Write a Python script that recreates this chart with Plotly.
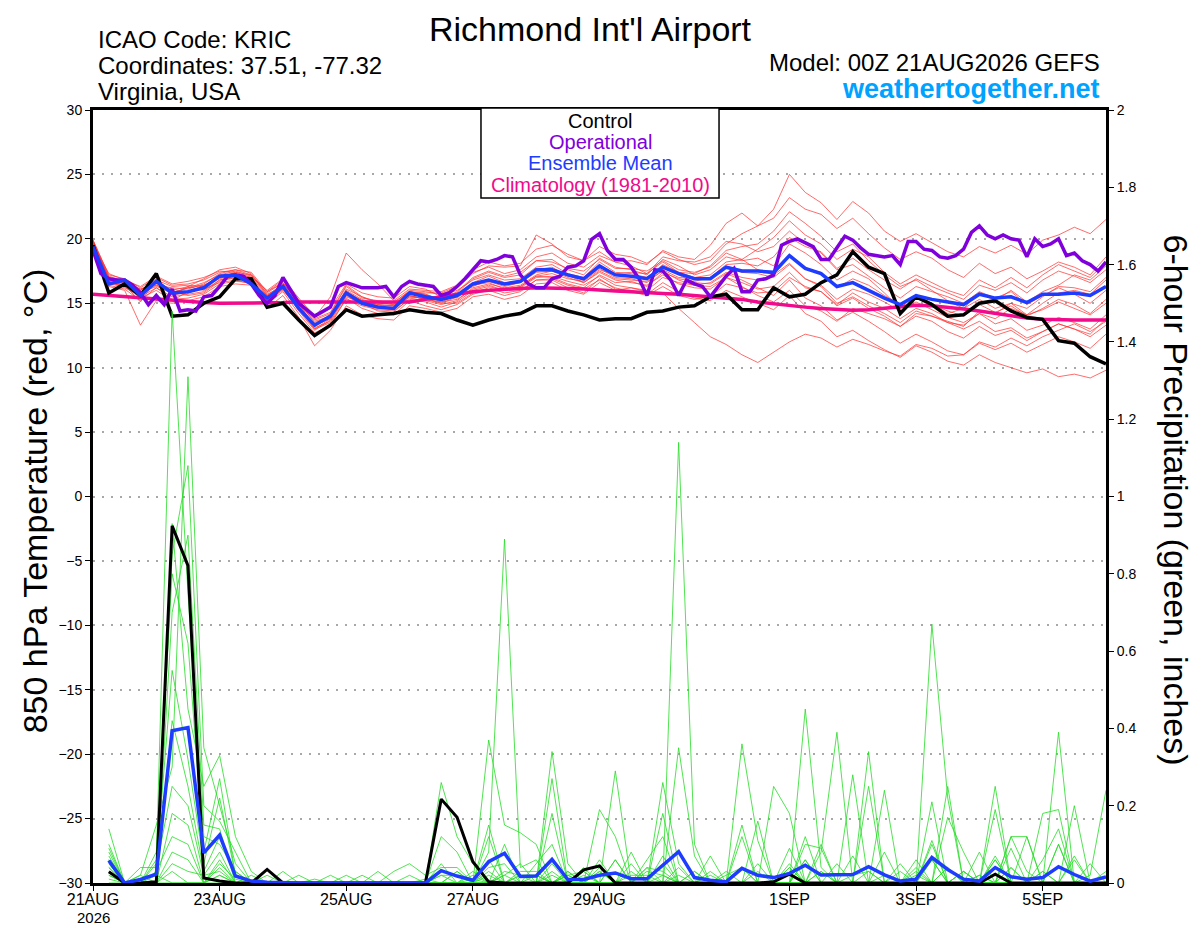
import pandas as pd
import plotly.graph_objects as go

# 6-hourly valid times (temperature) and 3-hourly for the operational run
times = pd.date_range('2026-08-21 00:00', periods=65, freq='6h')
times_op = pd.date_range('2026-08-21 00:00', periods=129, freq='3h')
times_precip = times[1:]

tick_dates = ['2026-08-21', '2026-08-23', '2026-08-25', '2026-08-27',
              '2026-08-29', '2026-09-01', '2026-09-03', '2026-09-05']
tick_labels = ['21AUG', '23AUG', '25AUG', '27AUG',
               '29AUG', '1SEP', '3SEP', '5SEP']

# 850 hPa temperature (C)
control_t = [19.5, 15.8, 16.5, 15.6, 17.3, 14.0, 14.1, 15.0, 15.5, 16.9, 16.9,
             14.7, 15.0, 13.7, 12.5, 13.3, 14.5, 14.0, 14.1, 14.2, 14.5, 14.3,
             14.2, 13.7, 13.3, 13.7, 14.0, 14.2, 14.8, 14.8, 14.4, 14.1, 13.7,
             13.8, 13.8, 14.3, 14.4, 14.7, 14.8, 15.5, 15.7, 14.5, 14.5, 16.2,
             15.5, 15.7, 16.6, 17.2, 19.0, 17.8, 17.3, 14.2, 15.5, 14.9, 14.0,
             14.1, 15.0, 15.2, 14.4, 13.9, 13.75, 12.1, 11.9, 10.85, 10.3]

mean_t = [19.4, 16.5, 16.8, 15.6, 16.7, 15.8, 15.9, 16.2, 17.1, 17.2, 16.5,
          15.4, 16.3, 14.6, 13.3, 14.0, 15.8, 15.0, 14.7, 14.6, 15.8, 15.5,
          15.3, 15.6, 16.5, 16.8, 16.5, 16.7, 17.6, 17.6, 17.2, 16.9, 17.9,
          17.2, 17.1, 16.9, 17.8, 17.3, 16.9, 16.9, 17.8, 17.5, 17.5, 17.4,
          18.7, 17.7, 17.3, 16.3, 16.6, 16.0, 15.4, 14.9, 15.6, 15.3, 15.1,
          14.9, 15.7, 15.4, 15.5, 15.05, 15.7, 15.7, 15.8, 15.6, 16.3]

clim_t = [15.7, 15.6, 15.5, 15.4, 15.3, 15.2, 15.1, 15.05, 15.0, 15.0, 15.0,
          15.0, 15.05, 15.1, 15.1, 15.1, 15.1, 15.1, 15.05, 15.05, 15.1, 15.3,
          15.5, 15.7, 15.9, 16.0, 16.1, 16.15, 16.2, 16.2, 16.15, 16.1, 16.0,
          15.95, 15.9, 15.8, 15.75, 15.7, 15.6, 15.5, 15.4, 15.3, 15.1, 14.95,
          14.8, 14.7, 14.6, 14.5, 14.45, 14.5, 14.6, 14.75, 14.85, 14.8, 14.7,
          14.55, 14.4, 14.2, 14.0, 13.85, 13.75, 13.7, 13.7, 13.7, 13.7]

oper_t = [19.1, 17.3, 16.9, 16.8, 16.8, 16.4, 15.8, 14.9, 15.6, 14.9, 16.1,
          14.4, 14.5, 14.4, 15.5, 15.6, 16.3, 17.1, 17.2, 17.1, 16.5, 15.6,
          15.0, 15.6, 17.0, 16.0, 15.0, 14.5, 14.0, 14.35, 14.7, 16.3, 16.6,
          16.4, 16.2, 16.2, 16.2, 16.3, 15.5, 16.3, 16.7, 16.5, 16.4,
          16.3, 15.6, 15.8, 16.3, 16.9, 17.6, 18.3, 18.2, 18.4, 18.7, 18.6,
          17.2, 16.5, 16.2, 16.2, 16.9, 17.1, 17.8, 17.9, 18.3, 19.96, 20.4,
          19.1, 18.4, 18.4, 17.8, 16.9, 15.6, 17.6, 17.5, 16.8, 15.6, 16.8,
          16.5, 16.3, 15.5, 16.3, 17.1, 17.7, 15.9, 15.9, 16.8, 16.9,
          17.2, 19.5, 19.8, 20.0, 19.7, 19.4, 18.4, 18.4, 19.3, 20.2, 19.9,
          19.3, 18.8, 18.7, 18.6, 18.7, 18.0, 19.8, 19.8, 19.2, 19.1, 18.6,
          18.5, 18.7, 19.2, 20.5, 21.0, 20.3, 20.0, 20.3, 20.0, 19.9, 18.6,
          20.0, 19.4, 19.6, 20.0, 18.7, 18.9, 18.3, 18.0, 17.5, 18.2]

members_t = [
    [19.9, 17.2, 16.9, 16.2, 17.0, 16.4, 16.5, 16.8, 17.4, 17.6, 17.2,
     15.9, 16.8, 15.2, 13.9, 15.5, 18.9, 17.6, 16.5, 15.2, 16.1, 16.0,
     15.9, 16.4, 17.4, 17.8, 17.3, 17.6, 18.6, 18.9, 18.1, 17.8, 18.7,
     18.2, 18.3, 18.0, 19.1, 18.6, 18.4, 19.5, 21.2, 22.0, 21.0, 22.3,
     25.0, 23.6, 22.8, 21.5, 22.9, 22.0, 20.6, 19.8, 20.4, 19.7, 19.0,
     18.6, 19.4, 18.9, 19.5, 18.8, 19.9, 20.3, 20.9, 20.4, 21.5],
    [19.6, 16.4, 16.1, 15.2, 16.2, 15.3, 15.4, 15.7, 16.5, 16.7, 16.6,
     15.0, 15.9, 14.2, 12.7, 13.3, 15.4, 14.6, 14.2, 14.1, 15.2, 14.8,
     14.5, 14.9, 15.7, 16.0, 15.6, 15.9, 16.8, 16.8, 16.2, 15.8, 16.9,
     16.1, 16.0, 15.7, 16.6, 15.9, 15.4, 15.2, 16.0, 15.5, 15.0, 14.5,
     15.6, 14.2, 13.6, 12.4, 12.9, 12.1, 11.4, 10.8, 11.7, 11.2, 10.5,
     10.2, 11.0, 10.4, 10.0, 9.6, 9.9, 9.3, 9.5, 9.2, 9.8],
    [19.8, 16.9, 16.6, 15.9, 16.5, 16.1, 15.8, 16.3, 17.1, 17.3, 17.0,
     15.6, 16.5, 15.0, 13.2, 14.1, 16.0, 15.3, 14.9, 15.1, 15.9, 15.7,
     15.2, 15.8, 16.9, 17.4, 17.0, 17.2, 18.3, 18.4, 17.6, 17.2, 18.5,
     17.8, 17.6, 17.2, 18.4, 17.9, 17.2, 17.6, 18.6, 18.3, 18.5, 17.9,
     19.6, 18.9, 18.0, 16.8, 17.5, 16.9, 15.8, 14.6, 15.7, 15.0, 14.2,
     14.6, 15.8, 15.2, 16.0, 15.1, 15.9, 16.4, 17.2, 16.8, 17.9],
    [19.5, 16.6, 16.4, 15.1, 16.8, 15.7, 16.3, 16.0, 16.8, 17.0, 16.6,
     15.2, 16.0, 14.6, 13.1, 13.6, 15.5, 15.0, 14.4, 14.3, 15.4, 15.2,
     14.9, 15.2, 16.2, 16.5, 16.2, 16.4, 17.2, 17.5, 17.2, 16.6, 17.4,
     16.8, 16.6, 16.4, 17.2, 16.5, 16.2, 16.1, 17.0, 16.6, 16.1, 16.3,
     17.4, 16.2, 15.9, 14.8, 15.4, 14.6, 14.0, 13.2, 14.0, 13.6, 12.8,
     12.3, 13.2, 12.5, 12.9, 12.1, 12.8, 13.4, 13.0, 12.6, 13.8],
    [19.7, 17.0, 16.7, 16.0, 16.9, 15.8, 16.2, 16.6, 17.2, 17.5, 17.1,
     15.8, 16.6, 15.0, 13.7, 14.2, 16.3, 15.4, 15.2, 15.0, 16.0, 15.9,
     15.7, 16.2, 17.3, 17.9, 17.8, 17.9, 20.3, 19.6, 18.6, 18.3, 19.4,
     18.8, 18.6, 18.1, 19.0, 18.4, 18.0, 18.3, 19.6, 20.4, 21.0, 21.6,
     23.2, 22.3, 21.9, 20.8, 21.6, 20.4, 19.3, 18.4, 19.0, 18.5, 17.6,
     17.0, 18.1, 17.3, 17.8, 16.9, 17.5, 18.2, 17.8, 17.2, 18.6],
    [19.9, 16.5, 16.3, 15.5, 16.2, 15.5, 15.7, 15.9, 16.8, 17.1, 16.9,
     15.3, 16.1, 14.4, 12.9, 13.7, 15.6, 14.9, 14.6, 14.5, 15.5, 15.4,
     15.6, 16.0, 16.8, 17.2, 16.8, 16.9, 17.8, 18.0, 17.3, 17.0, 18.2,
     17.4, 17.3, 17.0, 17.9, 17.2, 16.6, 16.5, 17.3, 16.8, 16.2, 15.6,
     16.8, 15.4, 14.8, 13.7, 14.3, 13.6, 12.8, 11.9, 12.6, 12.0, 11.3,
     11.0, 11.9, 11.4, 11.9, 11.2, 11.8, 12.4, 12.0, 11.5, 12.6],
    [19.6, 17.3, 16.8, 16.3, 17.1, 16.5, 16.7, 17.0, 17.5, 17.4, 17.0,
     16.0, 16.9, 15.4, 14.0, 14.6, 16.5, 15.8, 15.5, 15.4, 16.3, 16.1,
     15.5, 15.4, 16.4, 16.6, 16.1, 16.3, 17.1, 17.0, 16.5, 16.2, 17.2,
     16.6, 16.7, 16.3, 17.4, 16.9, 16.7, 17.0, 18.0, 18.1, 17.9, 18.6,
     20.1, 19.4, 19.0, 17.7, 18.5, 17.6, 16.8, 16.1, 16.9, 16.3, 15.8,
     15.3, 16.4, 16.0, 16.6, 15.8, 16.8, 17.5, 17.1, 16.6, 17.6],
    [19.8, 16.3, 16.0, 13.3, 15.2, 15.0, 15.2, 15.5, 16.3, 16.5, 16.4,
     14.6, 15.6, 13.9, 11.7, 12.9, 14.8, 14.1, 13.8, 13.7, 14.8, 14.6,
     14.3, 14.6, 15.5, 15.7, 15.3, 15.6, 16.5, 16.6, 16.0, 15.7, 16.6,
     16.0, 16.2, 16.0, 17.0, 16.6, 16.4, 16.6, 17.4, 17.0, 16.8, 17.2,
     18.6, 17.7, 17.4, 16.2, 16.9, 16.4, 15.6, 14.9, 15.5, 14.9, 14.4,
     14.0, 14.9, 14.3, 14.8, 14.0, 14.6, 15.3, 14.9, 14.2, 15.3],
    [19.7, 16.8, 16.6, 15.7, 16.4, 16.2, 16.1, 16.5, 17.3, 17.6, 17.4,
     15.9, 16.6, 15.1, 13.5, 14.0, 16.1, 15.5, 15.1, 14.9, 15.9, 15.8,
     15.8, 16.3, 17.6, 18.2, 17.9, 18.1, 19.2, 19.5, 18.8, 18.3, 19.0,
     18.2, 17.9, 17.3, 18.2, 17.4, 17.0, 17.2, 18.2, 18.4, 19.2, 20.1,
     21.4, 20.3, 19.6, 18.4, 19.2, 18.6, 17.4, 16.5, 17.2, 16.6, 16.0,
     15.6, 16.8, 16.2, 17.0, 16.2, 17.2, 18.0, 17.5, 17.0, 18.2],
    [19.6, 16.7, 16.2, 15.6, 16.7, 15.6, 15.9, 16.1, 16.6, 16.8, 16.5,
     15.1, 16.2, 14.7, 13.0, 13.5, 15.3, 14.8, 14.5, 14.4, 15.3, 15.1,
     14.7, 15.1, 16.0, 16.3, 16.0, 16.2, 17.0, 17.1, 16.7, 16.4, 17.1,
     16.4, 16.2, 15.9, 15.8, 14.6, 13.5, 12.4, 11.8, 11.0, 10.4, 11.2,
     12.0, 12.6, 12.3, 11.6, 12.2, 11.8, 11.3, 10.9, 11.8, 11.5, 10.9,
     11.0, 12.0, 11.6, 12.3, 11.7, 12.4, 12.9, 13.4, 12.8, 13.6],
    [19.9, 17.1, 16.7, 16.1, 16.6, 16.0, 16.3, 16.9, 17.6, 17.8, 17.3,
     15.7, 16.3, 14.9, 13.6, 14.0, 15.9, 15.2, 14.9, 14.8, 15.8, 15.6,
     15.4, 15.6, 16.6, 17.1, 16.6, 16.7, 17.6, 17.8, 17.1, 16.9, 17.9,
     17.3, 17.4, 17.3, 18.6, 18.3, 18.2, 18.6, 19.8, 19.6, 19.0, 19.4,
     20.6, 19.6, 18.9, 17.6, 18.0, 17.1, 16.2, 15.4, 16.3, 15.9, 15.5,
     15.0, 15.9, 15.4, 15.9, 14.9, 15.6, 16.2, 15.7, 15.0, 16.0],
    [19.5, 16.5, 16.5, 15.8, 16.3, 15.9, 15.6, 15.8, 16.7, 17.0, 16.8,
     15.4, 16.4, 14.8, 13.3, 13.8, 15.7, 15.1, 14.7, 14.6, 15.6, 15.3,
     15.0, 15.5, 16.3, 16.8, 16.4, 16.6, 17.5, 17.7, 17.2, 16.8, 17.7,
     17.0, 16.9, 16.6, 17.6, 17.0, 16.9, 17.0, 17.9, 17.4, 17.3, 17.0,
     18.0, 16.9, 16.4, 15.3, 16.1, 15.7, 15.1, 14.4, 15.1, 14.5, 13.9,
     13.5, 14.2, 13.4, 13.8, 12.9, 13.3, 13.9, 13.5, 13.0, 14.1],
    [19.8, 16.9, 16.3, 15.4, 16.0, 15.2, 15.9, 16.4, 17.0, 17.2, 16.9,
     15.5, 16.2, 14.5, 13.0, 13.8, 15.8, 15.2, 14.8, 14.8, 15.9, 15.7,
     15.3, 15.9, 17.0, 17.5, 17.1, 17.4, 18.3, 18.2, 17.7, 17.5, 18.4,
     17.7, 17.7, 17.5, 18.3, 17.6, 17.4, 17.8, 18.9, 18.4, 17.6, 17.2,
     18.1, 16.9, 16.3, 15.0, 15.5, 14.8, 14.2, 13.5, 14.4, 14.0, 13.6,
     13.2, 14.4, 14.2, 15.0, 14.6, 15.5, 16.3, 16.2, 15.9, 17.0],
    [19.7, 16.6, 16.8, 16.0, 16.8, 16.3, 16.4, 16.3, 16.9, 17.2, 16.7,
     15.4, 16.5, 15.3, 13.8, 14.3, 16.4, 15.5, 15.0, 14.9, 15.9, 15.6,
     15.1, 15.3, 16.1, 16.4, 16.0, 16.3, 17.1, 17.3, 16.9, 16.7, 17.6,
     17.2, 17.1, 17.0, 18.0, 17.4, 17.3, 17.9, 19.1, 19.4, 19.6, 20.6,
     22.1, 21.2, 20.2, 19.0, 19.6, 18.3, 17.2, 16.3, 16.8, 16.0, 15.2,
     14.6, 15.3, 14.6, 15.0, 14.1, 14.5, 15.1, 14.6, 14.1, 15.0],
    [19.6, 17.0, 16.5, 16.1, 16.4, 15.7, 16.2, 16.4, 17.0, 17.4, 17.2,
     15.6, 16.4, 14.9, 13.2, 13.9, 15.7, 15.2, 14.7, 14.6, 15.5, 15.4,
     15.0, 15.0, 15.8, 16.2, 15.8, 16.0, 16.8, 16.9, 16.4, 16.1, 16.8,
     16.2, 15.9, 15.6, 16.3, 15.6, 15.3, 15.5, 16.5, 16.2, 15.8, 15.9,
     17.0, 16.3, 15.9, 14.9, 15.8, 15.1, 14.6, 13.8, 14.6, 14.2, 13.5,
     13.3, 14.2, 13.8, 14.6, 14.1, 15.0, 15.8, 16.0, 15.7, 16.8],
    [19.8, 16.7, 16.4, 15.6, 16.6, 15.9, 15.8, 16.2, 17.0, 17.1, 16.8,
     15.2, 16.1, 14.6, 13.4, 14.0, 15.9, 15.2, 14.8, 14.8, 15.6, 15.3,
     15.1, 15.6, 16.5, 16.7, 16.3, 16.6, 17.4, 17.5, 17.0, 16.6, 17.5,
     16.9, 16.8, 16.7, 17.5, 16.8, 16.4, 16.3, 17.0, 16.3, 15.6, 15.1,
     16.0, 14.8, 14.4, 13.6, 14.6, 14.2, 13.8, 13.2, 14.2, 14.0, 13.5,
     13.0, 13.6, 12.8, 13.1, 12.3, 12.8, 13.4, 13.0, 12.4, 13.3],
]

# 6-hour precipitation (inches), valid 06Z 21 Aug onward
control_p = [0.029, 0, 0, 0.003, 0.924, 0.821, 0.013, 0.005,
             0, 0, 0.035, 0, 0, 0, 0, 0,
             0, 0, 0, 0, 0, 0.217, 0.17, 0.055,
             0.003, 0, 0, 0, 0, 0, 0.034, 0.044,
             0, 0, 0, 0, 0, 0, 0, 0,
             0, 0, 0.003, 0.023, 0, 0, 0, 0,
             0, 0, 0, 0, 0, 0, 0, 0,
             0.023, 0, 0, 0, 0, 0, 0, 0]

mean_p = [0.058, 0.0, 0.009, 0.023, 0.394, 0.402, 0.078, 0.124,
          0.018, 0.005, 0.002, 0, 0, 0, 0, 0,
          0, 0, 0, 0, 0, 0.032, 0.018, 0.007,
          0.055, 0.077, 0.017, 0.018, 0.061, 0.009, 0.009, 0.02,
          0.026, 0.011, 0.011, 0.046, 0.081, 0.014, 0.007, 0.003,
          0.038, 0.02, 0.014, 0.025, 0.046, 0.021, 0.021, 0.022,
          0.042, 0.021, 0.005, 0.01, 0.066, 0.035, 0.01, 0.005,
          0.04, 0.016, 0.01, 0.014, 0.042, 0.022, 0.005, 0.016]

members_p = [
    [0.08, 0, 0, 0.06, 1.48, 0.75, 0.12, 0.10, 0.03, 0, 0, 0, 0, 0, 0, 0,
     0, 0, 0, 0, 0, 0.05, 0, 0, 0.06, 0, 0, 0, 0.05, 0, 0, 0,
     0.06, 0, 0, 0.05, 0, 0, 0, 0, 0.04, 0, 0, 0, 0.06, 0, 0, 0,
     0.03, 0, 0, 0, 0.06, 0, 0, 0, 0.06, 0, 0, 0, 0.10, 0, 0, 0],
    [0.14, 0, 0.02, 0.15, 0.30, 1.31, 0.35, 0.20, 0.05, 0, 0, 0, 0, 0, 0, 0,
     0, 0, 0, 0, 0, 0.26, 0.12, 0.05, 0, 0.02, 0, 0, 0.03, 0, 0, 0,
     0, 0, 0, 0, 0.04, 0, 0, 0, 0, 0, 0, 0.05, 0, 0, 0, 0.07,
     0, 0, 0, 0, 0, 0.04, 0, 0, 0, 0.04, 0, 0, 0, 0, 0, 0],
    [0.05, 0, 0, 0, 0.93, 0.45, 0.25, 0.33, 0.12, 0.03, 0, 0, 0, 0, 0, 0,
     0, 0, 0, 0, 0, 0, 0, 0, 0.37, 0.15, 0.13, 0.10, 0, 0, 0, 0.04,
     0, 0, 0, 0.26, 0.05, 0, 0, 0, 0, 0.16, 0, 0, 0, 0.10, 0, 0,
     0, 0, 0, 0, 0.67, 0.22, 0, 0, 0.07, 0, 0, 0, 0, 0.07, 0, 0],
    [0.10, 0, 0, 0, 0.85, 1.08, 0.20, 0.16, 0.08, 0, 0.02, 0, 0, 0, 0, 0,
     0, 0, 0, 0, 0, 0.12, 0.08, 0, 0, 0.02, 0.05, 0, 0, 0, 0, 0,
     0.29, 0, 0, 0, 1.14, 0.10, 0, 0, 0.15, 0, 0, 0, 0.45, 0.04, 0, 0,
     0, 0.08, 0, 0, 0.21, 0, 0, 0, 0, 0.12, 0.03, 0, 0, 0.06, 0, 0],
    [0.09, 0, 0, 0.08, 0.80, 0.62, 0.08, 0.27, 0.02, 0, 0, 0, 0, 0, 0, 0.02,
     0, 0, 0, 0, 0, 0, 0, 0, 0.15, 0, 0, 0, 0.34, 0.05, 0, 0,
     0, 0.08, 0, 0.18, 0, 0, 0, 0, 0.36, 0.11, 0, 0, 0, 0, 0, 0.28,
     0, 0.24, 0, 0, 0, 0.25, 0, 0, 0.25, 0, 0, 0, 0, 0.20, 0, 0],
    [0.07, 0, 0, 0, 0.70, 0.90, 0.15, 0.14, 0, 0, 0, 0.03, 0, 0, 0, 0,
     0, 0, 0.03, 0.05, 0.02, 0.04, 0.04, 0, 0.12, 0, 0, 0, 0.27, 0, 0.04, 0,
     0, 0, 0.06, 0.12, 0, 0, 0, 0, 0, 0, 0.25, 0.18, 0, 0, 0, 0,
     0.25, 0, 0, 0, 0.11, 0, 0, 0, 0.19, 0, 0, 0.18, 0.19, 0, 0, 0],
    [0.06, 0, 0, 0.05, 0.55, 0.32, 0.05, 0.22, 0.02, 0, 0, 0, 0, 0, 0.02, 0,
     0, 0, 0, 0, 0, 0, 0, 0.03, 0, 0.10, 0, 0, 0.18, 0, 0, 0.19,
     0.12, 0, 0, 0, 0.35, 0.07, 0, 0, 0, 0, 0, 0, 0.12, 0, 0, 0,
     0, 0, 0.05, 0, 0, 0.17, 0.08, 0, 0, 0, 0, 0.06, 0.14, 0, 0, 0],
    [0.06, 0, 0, 0, 0.42, 0.25, 0.03, 0.12, 0.03, 0, 0, 0, 0, 0, 0, 0,
     0.02, 0, 0, 0, 0, 0.02, 0, 0, 0.08, 0.89, 0.04, 0.06, 0, 0.03, 0, 0,
     0, 0.05, 0, 0.07, 0, 0, 0.07, 0, 0, 0.05, 0, 0, 0.10, 0.09, 0, 0,
     0, 0, 0, 0.06, 0, 0, 0, 0.08, 0, 0.09, 0, 0, 0, 0, 0.05, 0],
    [0.05, 0, 0.04, 0.04, 0.25, 0.20, 0.02, 0.08, 0, 0, 0, 0, 0, 0, 0, 0,
     0, 0.03, 0, 0, 0, 0, 0.03, 0, 0.04, 0.05, 0, 0.05, 0.10, 0, 0, 0,
     0.06, 0, 0.04, 0, 0, 0, 0, 0, 0.12, 0, 0, 0.09, 0, 0.08, 0.39, 0,
     0, 0, 0, 0.04, 0, 0, 0.03, 0, 0, 0, 0.12, 0, 0.10, 0, 0, 0],
    [0.04, 0, 0, 0, 0.18, 0.15, 0, 0.06, 0, 0.02, 0, 0, 0, 0, 0, 0,
     0, 0, 0, 0, 0, 0, 0, 0.02, 0, 0, 0.03, 0.03, 0, 0.02, 0, 0.06,
     0, 0, 0.04, 0.03, 0, 0.03, 0, 0.03, 0, 0, 0, 0.04, 0, 0, 0.05, 0,
     0.34, 0, 0, 0.03, 0, 0, 0.03, 0, 0, 0, 0, 0.03, 0, 0, 0, 0.03],
    [0.04, 0, 0, 0.03, 0.12, 0.10, 0, 0.05, 0.01, 0, 0, 0, 0.02, 0, 0, 0,
     0, 0, 0, 0, 0.01, 0, 0, 0, 0.03, 0, 0.02, 0.02, 0, 0.02, 0.03, 0,
     0, 0.03, 0, 0.02, 0, 0, 0.03, 0, 0, 0.03, 0, 0, 0, 0.03, 0, 0,
     0, 0, 0.03, 0, 0.06, 0, 0, 0.02, 0, 0.04, 0, 0, 0.39, 0, 0, 0],
    [0.03, 0, 0, 0, 0.08, 0.06, 0, 0.04, 0, 0, 0, 0, 0, 0, 0, 0,
     0, 0, 0, 0.02, 0, 0.02, 0.02, 0, 0.02, 0, 0, 0.02, 0, 0.02, 0, 0.03,
     0, 0, 0.03, 0.02, 0, 0, 0, 0.02, 0.04, 0, 0, 0, 0.06, 0, 0, 0,
     0, 0, 0, 0.02, 0, 0.04, 0, 0, 0.06, 0, 0, 0, 0, 0, 0.02, 0.24],
    [0.02, 0, 0, 0, 0.05, 0.03, 0.02, 0.03, 0, 0, 0, 0, 0, 0.01, 0, 0,
     0, 0, 0, 0, 0, 0, 0, 0, 0, 0.03, 0.02, 0.02, 0, 0, 0, 0,
     0, 0.02, 0.02, 0, 0.02, 0, 0, 0, 0, 0, 0, 0.04, 0, 0.03, 0, 0,
     0, 0, 0, 0, 0.10, 0, 0, 0, 0, 0, 0, 0.03, 0, 0, 0, 0],
    [0.02, 0, 0, 0, 0.03, 0, 0, 0.02, 0, 0, 0, 0, 0, 0, 0, 0,
     0, 0, 0, 0, 0, 0, 0, 0.01, 0, 0, 0, 0, 0.02, 0, 0.03, 0,
     0, 0, 0, 0, 0, 0.03, 0, 0, 0, 0, 0, 0, 0, 0, 0, 0.02,
     0.03, 0, 0, 0, 0, 0, 0.03, 0, 0, 0.12, 0.12, 0, 0, 0, 0, 0],
    [0.01, 0, 0, 0.02, 0, 0, 0, 0.02, 0, 0, 0, 0, 0, 0, 0, 0,
     0, 0, 0, 0, 0, 0, 0.03, 0, 0, 0, 0, 0, 0, 0.03, 0, 0.03,
     0, 0, 0, 0, 0, 0, 0.02, 0, 0, 0, 0, 0, 0, 0, 0, 0,
     0, 0, 0, 0, 0, 0, 0, 0, 0, 0, 0, 0, 0, 0, 0, 0],
    [0, 0, 0.02, 0, 0, 0, 0, 0, 0, 0, 0, 0, 0, 0, 0, 0,
     0, 0, 0, 0, 0, 0, 0, 0, 0, 0, 0.02, 0, 0, 0, 0.02, 0,
     0, 0, 0, 0, 0, 0, 0, 0, 0, 0, 0, 0, 0, 0, 0, 0,
     0, 0.02, 0, 0, 0, 0, 0, 0.02, 0, 0, 0, 0, 0, 0, 0, 0],
]

RED = 'rgba(255,50,50,0.8)'
GREEN = 'rgba(40,220,40,0.9)'
PURPLE = 'rgb(128,0,220)'
BLUE = 'rgb(30,60,255)'
MAGENTA = 'rgb(240,10,140)'
FONT = 'Liberation Sans, Arial, sans-serif'

fig = go.Figure()

for m in members_t:
    fig.add_trace(go.Scatter(x=times, y=m, mode='lines',
                             line=dict(color=RED, width=0.9), hoverinfo='skip'))

for m in members_p:
    fig.add_trace(go.Scatter(x=times_precip, y=m, mode='lines', yaxis='y2',
                             line=dict(color=GREEN, width=0.9), hoverinfo='skip'))

fig.add_trace(go.Scatter(x=times_precip, y=control_p, mode='lines', yaxis='y2',
                         line=dict(color='black', width=3), name='Control precip'))
fig.add_trace(go.Scatter(x=times_precip, y=mean_p, mode='lines', yaxis='y2',
                         line=dict(color=BLUE, width=3.5), name='Mean precip'))

fig.add_trace(go.Scatter(x=times, y=clim_t, mode='lines',
                         line=dict(color=MAGENTA, width=3.5), name='Climatology'))
fig.add_trace(go.Scatter(x=times, y=control_t, mode='lines',
                         line=dict(color='black', width=3.5), name='Control'))
fig.add_trace(go.Scatter(x=times_op, y=oper_t, mode='lines',
                         line=dict(color=PURPLE, width=3.5), name='Operational'))
fig.add_trace(go.Scatter(x=times, y=mean_t, mode='lines',
                         line=dict(color=BLUE, width=3.5), name='Ensemble Mean'))

# the page body adds an 8px offset, so the figure is 8px smaller than the window
fig.update_layout(
    width=1192, height=919,
    margin=dict(l=85, r=94, t=102, b=44, autoexpand=False),
    paper_bgcolor='white', plot_bgcolor='white',
    showlegend=False,
    font=dict(family=FONT, color='black', size=14),
    xaxis=dict(range=[times[0], times[-1]], automargin=False,
               tickmode='array', tickvals=tick_dates, ticktext=tick_labels,
               ticks='outside', ticklen=5, tickcolor='black',
               tickfont=dict(size=16), ticklabelstandoff=-5,
               showline=True, linewidth=3, linecolor='black', mirror=True,
               showgrid=False, zeroline=False),
    yaxis=dict(range=[-30, 30], dtick=5, ticks='outside', ticklen=5,
               automargin=False,
               tickcolor='black', tickfont=dict(size=14),
               showline=True, linewidth=3, linecolor='black', mirror=True,
               showgrid=True, gridcolor='#a8a8a8', griddash='2px,7px', gridwidth=1.5,
               zeroline=False),
    yaxis2=dict(range=[0, 2], dtick=0.2, overlaying='y', side='right',
                automargin=False,
                ticks='outside', ticklen=5, tickcolor='black',
                tickfont=dict(size=14),
                showline=True, linewidth=3, linecolor='black',
                showgrid=False, zeroline=False),
)

# legend box
fig.add_shape(type='rect', xref='paper', yref='paper',
              x0=0.383, x1=0.618, y0=0.886, y1=1.0026, layer='above',
              fillcolor='white', line=dict(color='black', width=1.5))

legend_items = [('Control', 'black', 0.9857),
                ('Operational', PURPLE, 0.9586),
                ('Ensemble Mean', BLUE, 0.9314),
                ('Climatology (1981-2010)', MAGENTA, 0.903)]
for label, col, ypos in legend_items:
    fig.add_annotation(text=label, xref='paper', yref='paper', x=0.5005, y=ypos,
                       showarrow=False, font=dict(size=20, color=col),
                       xanchor='center', yanchor='middle')

annotations = [
    dict(text="Richmond Int'l Airport", x=0.4915, y=1.1315, font=dict(size=34),
         xanchor='center', yanchor='top'),
    dict(text='ICAO Code: KRIC', x=0.003, y=1.0906, font=dict(size=24),
         xanchor='left', yanchor='middle'),
    dict(text='Coordinates: 37.51, -77.32', x=0.003, y=1.057, font=dict(size=24),
         xanchor='left', yanchor='middle'),
    dict(text='Virginia, USA', x=0.003, y=1.0233, font=dict(size=24),
         xanchor='left', yanchor='middle'),
    dict(text='Model: 00Z 21AUG2026 GEFS', x=0.996, y=1.061, font=dict(size=24),
         xanchor='right', yanchor='middle'),
    dict(text='<b>weathertogether.net</b>', x=0.996, y=1.027,
         font=dict(size=27, color='rgb(0,162,255)'),
         xanchor='right', yanchor='middle'),
    dict(text='2026', x=0.0, y=-0.0446, font=dict(size=15),
         xanchor='center', yanchor='middle'),
    dict(text='850 hPa Temperature (red, °C)', x=-0.0573, y=0.495,
         textangle=-90, font=dict(size=34), xanchor='center', yanchor='middle'),
    dict(text='6-hour Precipitation (green, inches)', x=1.069, y=0.495,
         textangle=90, font=dict(size=34), xanchor='center', yanchor='middle'),
]
for a in annotations:
    fig.add_annotation(xref='paper', yref='paper', showarrow=False, **a)

fig.write_html('out.html')
